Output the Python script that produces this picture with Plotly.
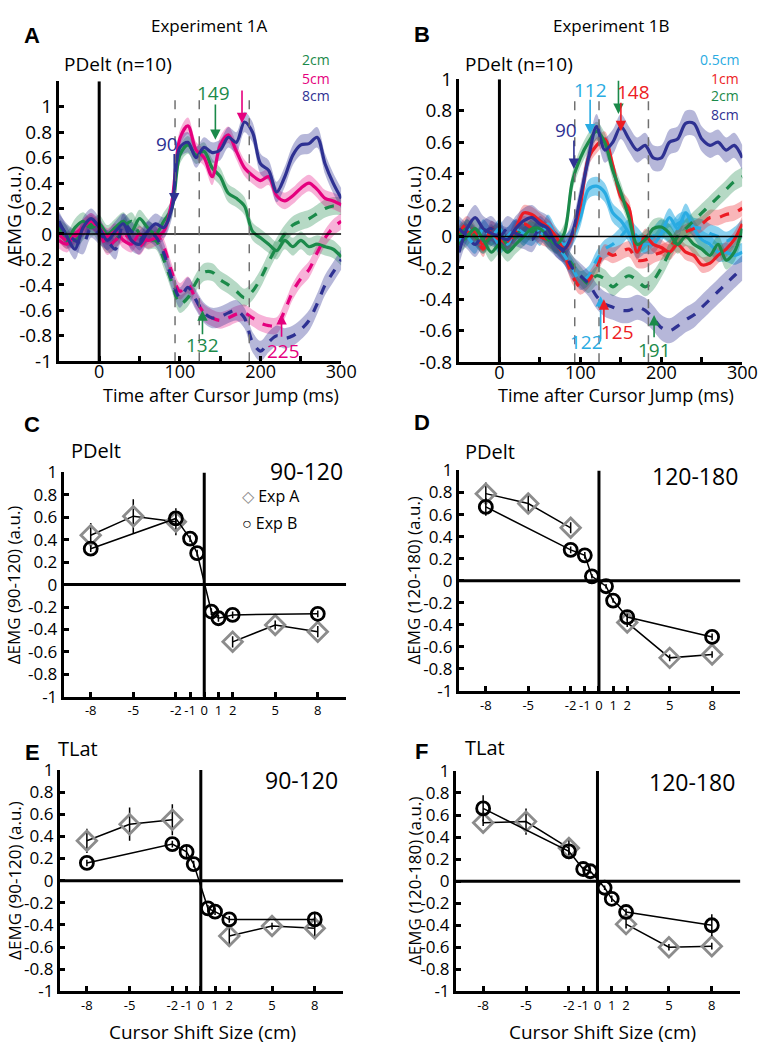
import plotly.graph_objects as go

W, H = 775, 1059
FONT = "Open Sans"

# ---------------- Panels A / B : time courses ----------------
TIME_MS = [-50, -40, -30, -20, -10, 0, 10, 20, 30, 40, 50, 60, 70, 80, 90,
           100, 110, 120, 130, 140, 150, 160, 170, 180, 190, 200, 210, 220,
           230, 240, 250, 260, 270, 280, 290, 300]

# Experiment 1A
A_2CM_POS = [0.02, -0.05, 0.05, 0.10, 0.05, 0.08, 0.00, 0.05, 0.10, 0.02, 0.12, 0.05, 0.00, 0.10, 0.20,
             0.62, 0.70, 0.62, 0.65, 0.52, 0.45, 0.32, 0.28, 0.22, 0.02, -0.03, -0.08, -0.13,
             -0.05, -0.10, -0.05, -0.10, -0.08, -0.10, -0.12, -0.18]
A_2CM_NEG = [0.05, 0.00, -0.05, 0.02, 0.08, 0.00, -0.08, -0.05, 0.05, 0.10, 0.00, -0.05, -0.05, -0.20, -0.38,
             -0.55, -0.50, -0.38, -0.30, -0.30, -0.36, -0.40, -0.45, -0.50, -0.45, -0.35, -0.22, -0.10,
             0.00, 0.07, 0.10, 0.12, 0.16, 0.20, 0.22, 0.22]
A_5CM_POS = [-0.05, -0.08, 0.00, 0.05, 0.10, 0.05, -0.02, 0.02, -0.05, -0.08, 0.00, -0.05, -0.03, 0.02, 0.25,
             0.75, 0.85, 0.66, 0.60, 0.45, 0.70, 0.78, 0.65, 0.52, 0.46, 0.42, 0.45, 0.30,
             0.26, 0.30, 0.36, 0.40, 0.35, 0.28, 0.26, 0.23]
A_5CM_NEG = [0.00, -0.05, -0.02, 0.05, 0.10, 0.02, -0.10, -0.05, 0.00, -0.05, -0.10, -0.02, 0.00, -0.10, -0.30,
             -0.45, -0.40, -0.52, -0.62, -0.66, -0.68, -0.66, -0.63, -0.62, -0.66, -0.70, -0.72, -0.72,
             -0.60, -0.45, -0.35, -0.28, -0.15, -0.03, 0.05, 0.10]
A_8CM_POS = [0.10, -0.02, -0.12, 0.05, 0.12, 0.05, -0.05, 0.02, 0.08, -0.05, -0.08, 0.02, 0.08, 0.05, 0.20,
             0.68, 0.72, 0.60, 0.68, 0.64, 0.66, 0.76, 0.72, 0.88, 0.80, 0.55, 0.50, 0.33,
             0.45, 0.62, 0.70, 0.71, 0.76, 0.55, 0.40, 0.28]
A_8CM_NEG = [0.08, 0.00, -0.05, -0.08, 0.05, 0.00, -0.05, -0.12, 0.08, 0.02, -0.05, 0.02, -0.02, -0.15, -0.35,
             -0.50, -0.42, -0.52, -0.62, -0.66, -0.65, -0.62, -0.60, -0.66, -0.85, -0.92, -0.85, -0.80,
             -0.82, -0.80, -0.75, -0.68, -0.55, -0.40, -0.30, -0.20]
A_SEM = {"2cm": 0.07, "5cm": 0.065, "8cm": 0.08}

# Experiment 1B
B_05CM_POS = [0.05, 0.00, -0.05, 0.05, 0.00, 0.05, -0.05, 0.05, 0.00, 0.05, 0.00, 0.08, 0.00, -0.05, 0.00,
              0.12, 0.30, 0.32, 0.28, 0.15, 0.10, 0.02, -0.08, -0.05, -0.05, 0.02, 0.12, 0.05,
              0.15, 0.05, -0.02, -0.05, -0.10, -0.10, -0.12, -0.10]
B_05CM_NEG = [-0.05, 0.05, 0.00, -0.05, 0.02, -0.05, 0.00, 0.05, 0.02, 0.00, 0.05, 0.00, -0.05, -0.12, -0.20,
              -0.28, -0.25, -0.15, -0.08, -0.05, 0.00, 0.05, 0.00, -0.05, 0.00, 0.05, 0.02, 0.08,
              0.10, 0.06, 0.05, 0.02, 0.00, -0.03, 0.00, 0.05]
B_1CM_POS = [0.00, 0.03, 0.00, -0.05, 0.02, -0.02, -0.03, 0.05, 0.15, 0.14, 0.10, 0.06, 0.00, -0.08, 0.00,
             0.20, 0.50, 0.58, 0.62, 0.45, 0.25, 0.18, -0.10, 0.00, -0.05, -0.07, -0.10, -0.05,
             -0.10, -0.12, -0.18, -0.17, -0.12, -0.08, -0.02, 0.08]
B_1CM_NEG = [0.02, 0.08, 0.02, -0.08, 0.05, 0.00, -0.05, 0.02, 0.08, 0.05, 0.00, -0.02, -0.05, -0.12, -0.25,
             -0.32, -0.28, -0.20, -0.10, -0.12, -0.10, -0.08, -0.15, -0.15, -0.12, -0.10, -0.07, 0.00,
             0.03, 0.05, 0.08, 0.12, 0.12, 0.14, 0.15, 0.18]
B_2CM_POS = [-0.05, 0.00, 0.05, -0.02, -0.10, -0.05, -0.10, -0.05, 0.00, 0.05, 0.05, 0.00, -0.05, 0.02, 0.35,
             0.50, 0.60, 0.67, 0.60, 0.42, 0.28, 0.12, -0.05, -0.02, 0.05, 0.06, 0.02, -0.05,
             0.00, -0.05, -0.08, -0.12, -0.05, -0.15, -0.10, 0.05]
B_2CM_NEG = [0.00, 0.05, 0.00, -0.05, 0.00, 0.02, -0.05, 0.00, 0.05, 0.03, 0.05, -0.02, -0.05, -0.10, -0.18,
             -0.25, -0.30, -0.25, -0.27, -0.32, -0.28, -0.25, -0.28, -0.32, -0.28, -0.20, -0.10, 0.00,
             0.05, 0.10, 0.15, 0.20, 0.25, 0.30, 0.35, 0.38]
B_8CM_POS = [-0.10, 0.05, 0.12, 0.05, 0.02, 0.00, -0.02, 0.05, 0.10, 0.12, 0.08, 0.05, -0.05, -0.08, 0.02,
             0.25, 0.50, 0.70, 0.55, 0.60, 0.70, 0.62, 0.55, 0.58, 0.50, 0.50, 0.60, 0.62,
             0.72, 0.72, 0.62, 0.58, 0.60, 0.55, 0.58, 0.50]
B_8CM_NEG = [0.05, 0.00, -0.05, 0.02, 0.05, 0.00, 0.05, 0.02, 0.00, -0.02, 0.05, 0.00, -0.05, -0.10, -0.20,
             -0.25, -0.30, -0.38, -0.43, -0.45, -0.47, -0.47, -0.45, -0.47, -0.52, -0.58, -0.60, -0.57,
             -0.53, -0.50, -0.45, -0.40, -0.35, -0.30, -0.25, -0.20]
B_SEM = {"0.5cm": 0.06, "1cm": 0.05, "2cm": 0.06, "8cm": 0.08}

WINDOW_LINES_A = [94, 124, 186]
WINDOW_LINES_B = [93, 123, 184]

# onset / peak markers: (label, time, tail value, tip value, text time, text value, colour key)
ARROWS_A = [("90", 93, 0.64, 0.24, 84, 0.71, "8cm"),
            ("149", 144, 1.03, 0.74, 142, 1.11, "2cm"),
            ("175", 177, 1.14, 0.87, 178, 1.22, "5cm"),
            ("132", 128, -0.80, -0.60, 128, -0.87, "2cm"),
            ("225", 226, -0.82, -0.63, 228, -0.92, "5cm")]
ARROWS_B = [("90", 92, 0.62, 0.43, 82, 0.68, "8cm"),
            ("112", 112, 0.88, 0.65, 112, 0.93, "0.5cm"),
            ("147", 147, 1.00, 0.78, 150, 1.06, "2cm"),
            ("148", 150, 0.86, 0.67, 165, 0.92, "1cm"),
            ("122", 125, -0.66, -0.38, 108, -0.67, "0.5cm"),
            ("125", 129, -0.56, -0.40, 146, -0.61, "1cm"),
            ("191", 191, -0.65, -0.50, 191, -0.72, "2cm")]

# ---------------- Panels C-F : tuning curves ----------------
SHIFT_TICKS = [-8, -5, -2, -1, 0, 1, 2, 5, 8]
SHIFT_A = [-8, -5, -2, 2, 5, 8]
SHIFT_B = [-8, -2, -1, -0.5, 0.5, 1, 2, 8]

C_EXPA = [0.44, 0.61, 0.56, -0.51, -0.36, -0.42]
C_EXPA_ERR = [0.11, 0.15, 0.12, 0.05, 0.04, 0.05]
C_EXPB = [0.32, 0.59, 0.41, 0.28, -0.24, -0.30, -0.27, -0.26]
C_EXPB_ERR = [0.03, 0.05, 0.03, 0.03, 0.03, 0.03, 0.03, 0.03]

D_EXPA = [0.79, 0.70, 0.48, -0.38, -0.70, -0.67]
D_EXPA_ERR = [0.10, 0.08, 0.05, 0.04, 0.03, 0.03]
D_EXPB = [0.67, 0.28, 0.23, 0.04, -0.05, -0.18, -0.33, -0.51]
D_EXPB_ERR = [0.08, 0.03, 0.03, 0.02, 0.02, 0.02, 0.03, 0.03]

E_EXPA = [0.36, 0.51, 0.55, -0.50, -0.41, -0.43]
E_EXPA_ERR = [0.11, 0.15, 0.14, 0.08, 0.03, 0.10]
E_EXPB = [0.16, 0.33, 0.26, 0.15, -0.25, -0.28, -0.35, -0.35]
E_EXPB_ERR = [0.03, 0.03, 0.06, 0.03, 0.03, 0.03, 0.03, 0.07]

F_EXPA = [0.53, 0.54, 0.30, -0.39, -0.60, -0.59]
F_EXPA_ERR = [0.03, 0.12, 0.08, 0.04, 0.03, 0.03]
F_EXPB = [0.66, 0.27, 0.11, 0.09, -0.06, -0.16, -0.28, -0.40]
F_EXPB_ERR = [0.12, 0.03, 0.02, 0.02, 0.02, 0.03, 0.03, 0.10]

Y_TICKS_AC = [-1, -0.8, -0.6, -0.4, -0.2, 0, 0.2, 0.4, 0.6, 0.8, 1]
Y_TICKS_B = [-0.8, -0.6, -0.4, -0.2, 0, 0.2, 0.4, 0.6, 0.8, 1]
T_TICKS = [0, 50, 100, 150, 200, 250, 300]
T_LABELS = ["0", "", "100", "", "200", "", "300"]

COL = {"2cm": "#1B8A4A", "5cm": "#E5007E", "8cm": "#2E3192",
       "0.5cm": "#29ABE2", "1cm": "#ED1C24"}
BAND = {"2cm": "rgba(27,138,74,0.32)", "5cm": "rgba(229,0,126,0.30)",
        "8cm": "rgba(46,49,146,0.35)", "0.5cm": "rgba(41,171,226,0.55)",
        "1cm": "rgba(237,28,36,0.32)"}


def fmt(v):
    return f"{v:g}"


def px(x):
    return x / W


def py(y):
    return 1 - y / H


fig = go.Figure()


def add_band(xa, ya, key, vals, sem):
    up = [v + sem for v in vals]
    lo = [v - sem for v in vals]
    fig.add_trace(go.Scatter(x=TIME_MS, y=lo, mode="lines",
                             line=dict(width=0, shape="spline", smoothing=0.9),
                             hoverinfo="skip", xaxis=xa, yaxis=ya))
    fig.add_trace(go.Scatter(x=TIME_MS, y=up, mode="lines", fill="tonexty",
                             fillcolor=BAND[key],
                             line=dict(width=0, shape="spline", smoothing=0.9),
                             hoverinfo="skip", xaxis=xa, yaxis=ya))


def add_mean(xa, ya, key, vals, dash):
    fig.add_trace(go.Scatter(x=TIME_MS, y=vals, mode="lines",
                             line=dict(color=COL[key], width=3.2, dash=dash,
                                       shape="spline", smoothing=0.9),
                             xaxis=xa, yaxis=ya))


series_A = [("2cm", A_2CM_POS, "solid"), ("2cm", A_2CM_NEG, "dash"),
            ("5cm", A_5CM_POS, "solid"), ("5cm", A_5CM_NEG, "dash"),
            ("8cm", A_8CM_POS, "solid"), ("8cm", A_8CM_NEG, "dash")]
series_B = [("0.5cm", B_05CM_POS, "solid"), ("0.5cm", B_05CM_NEG, "dash"),
            ("1cm", B_1CM_POS, "solid"), ("1cm", B_1CM_NEG, "dash"),
            ("2cm", B_2CM_POS, "solid"), ("2cm", B_2CM_NEG, "dash"),
            ("8cm", B_8CM_POS, "solid"), ("8cm", B_8CM_NEG, "dash")]

for k, v, d in series_A:
    add_band("x", "y", k, v, A_SEM[k])
for k, v, d in series_B:
    add_band("x2", "y2", k, v, B_SEM[k])
for k, v, d in series_A:
    add_mean("x", "y", k, v, d)
for k, v, d in series_B:
    add_mean("x2", "y2", k, v, d)


def add_tuning(xa, ya, a_vals, a_err, b_vals, b_err):
    # Exp A: negative and positive branches drawn separately
    xs, ys, es = [], [], []
    for s, v, e in zip(SHIFT_A, a_vals, a_err):
        if s > 0 and xs and xs[-1] is not None and xs[-1] < 0:
            xs.append(None); ys.append(None); es.append(0)
        xs.append(s); ys.append(v); es.append(e)
    fig.add_trace(go.Scatter(x=xs, y=ys, mode="lines+markers", connectgaps=False,
                             line=dict(color="black", width=1.5),
                             marker=dict(symbol="diamond-open", size=15, color="#8C8C8C",
                                         line=dict(width=2.8, color="#8C8C8C")),
                             error_y=dict(type="data", array=es, color="black",
                                          thickness=1.5, width=0),
                             xaxis=xa, yaxis=ya))
    fig.add_trace(go.Scatter(x=SHIFT_B, y=b_vals, mode="lines+markers",
                             line=dict(color="black", width=1.5),
                             marker=dict(symbol="circle-open", size=13, color="black",
                                         line=dict(width=2.8, color="black")),
                             error_y=dict(type="data", array=b_err, color="black",
                                          thickness=1.5, width=0),
                             xaxis=xa, yaxis=ya))


add_tuning("x3", "y3", C_EXPA, C_EXPA_ERR, C_EXPB, C_EXPB_ERR)
add_tuning("x4", "y4", D_EXPA, D_EXPA_ERR, D_EXPB, D_EXPB_ERR)
add_tuning("x5", "y5", E_EXPA, E_EXPA_ERR, E_EXPB, E_EXPB_ERR)
add_tuning("x6", "y6", F_EXPA, F_EXPA_ERR, F_EXPB, F_EXPB_ERR)


def ax(domain, anchor, rng, tickvals, ticktext, size, standoff=0):
    return dict(domain=domain, anchor=anchor, range=rng, tickvals=tickvals,
                ticktext=ticktext, showline=True, linecolor="black", linewidth=3,
                ticks="inside", ticklen=5, tickwidth=2.5, tickcolor="black",
                showgrid=False, zeroline=False, ticklabelstandoff=standoff,
                tickfont=dict(family=FONT, size=size, color="black"))


yt_ac = [fmt(v) for v in Y_TICKS_AC]
yt_b = [fmt(v) for v in Y_TICKS_B]
xt_s = [fmt(v) for v in SHIFT_TICKS]

layout_axes = dict(
    xaxis=ax([px(60), px(348)], "y", [-50, 300], T_TICKS, T_LABELS, 18, -8),
    yaxis=ax([py(357), py(70)], "x", [-1, 1.2], Y_TICKS_AC, yt_ac, 19),
    xaxis2=ax([px(468), px(757)], "y2", [-50, 300], T_TICKS, T_LABELS, 18, -8),
    yaxis2=ax([py(358), py(68)], "x2", [-0.8, 1.0], Y_TICKS_B, yt_b, 19),
    xaxis3=ax([px(65), px(353)], "y3", [-9.9, 10], SHIFT_TICKS, xt_s, 13),
    yaxis3=ax([py(701), py(471)], "x3", [-1, 1], Y_TICKS_AC, yt_ac, 17),
    xaxis4=ax([px(468), px(755)], "y4", [-9.9, 10], SHIFT_TICKS, xt_s, 13),
    yaxis4=ax([py(695), py(469)], "x4", [-1, 1], Y_TICKS_AC, yt_ac, 17),
    xaxis5=ax([px(61), px(350)], "y5", [-9.9, 10], SHIFT_TICKS, xt_s, 13),
    yaxis5=ax([py(1003), py(776)], "x5", [-1, 1], Y_TICKS_AC, yt_ac, 17),
    xaxis6=ax([px(465), px(755)], "y6", [-9.9, 10], SHIFT_TICKS, xt_s, 13),
    yaxis6=ax([py(1003), py(777)], "x6", [-1, 1], Y_TICKS_AC, yt_ac, 17),
)

shapes = []
for xr, yr, ylo, yhi, wins, dtop in [("x", "y", -1, 1.2, WINDOW_LINES_A, 1.05),
                                      ("x2", "y2", -0.8, 1.0, WINDOW_LINES_B, 0.9)]:
    shapes.append(dict(type="line", xref=xr, yref=yr, x0=-50, x1=300, y0=0, y1=0,
                       line=dict(color="black", width=1.5)))
    shapes.append(dict(type="line", xref=xr, yref=yr, x0=0, x1=0, y0=ylo, y1=yhi,
                       line=dict(color="black", width=3)))
    for t in wins:
        shapes.append(dict(type="line", xref=xr, yref=yr, x0=t, x1=t, y0=ylo, y1=dtop,
                           line=dict(color="#707070", width=1.5, dash="dash")))
for i in range(3, 7):
    shapes.append(dict(type="line", xref=f"x{i}", yref=f"y{i}", x0=-9.9, x1=10, y0=0, y1=0,
                       line=dict(color="black", width=3)))
    shapes.append(dict(type="line", xref=f"x{i}", yref=f"y{i}", x0=0, x1=0, y0=-1, y1=1,
                       line=dict(color="black", width=3)))

anns = []


def txt(text, x, y, size, color="black", xanchor="center", yanchor="middle",
        angle=0, bold=False, family=FONT):
    anns.append(dict(text=f"<b>{text}</b>" if bold else text, x=px(x), y=py(y),
                     xref="paper", yref="paper", showarrow=False, xanchor=xanchor,
                     yanchor=yanchor, textangle=angle,
                     font=dict(family=family, size=size, color=color)))


for arrows, xr, yr in [(ARROWS_A, "x", "y"), (ARROWS_B, "x2", "y2")]:
    for lab, t, tail, tip, tt, tv, key in arrows:
        anns.append(dict(x=t, y=tip, ax=t, ay=tail, xref=xr, yref=yr, axref=xr, ayref=yr,
                         text="", showarrow=True, arrowhead=2, arrowsize=1.3,
                         arrowwidth=1.6, arrowcolor=COL[key]))
        anns.append(dict(x=tt, y=tv, xref=xr, yref=yr, text=lab, showarrow=False,
                         xanchor="center", yanchor="middle",
                         font=dict(family=FONT, size=19, color=COL[key])))

LET = "Liberation Sans"
txt("A", 33, 23, 22, bold=True, family=LET)
txt("B", 430, 22, 22, bold=True, family=LET)
txt("C", 33, 422, 22, bold=True, family=LET)
txt("D", 430, 420, 22, bold=True, family=LET)
txt("E", 33, 758, 22, bold=True, family=LET)
txt("F", 430, 757, 22, bold=True, family=LET)

txt("Experiment 1A", 213, 13, 17)
txt("Experiment 1B", 623, 13, 17)
txt("PDelt (n=10)", 63, 52, 19, xanchor="left")
txt("PDelt (n=10)", 472, 52, 19, xanchor="left")

for lab, yy in [("2cm", 48), ("5cm", 67), ("8cm", 85)]:
    txt(lab, 339, yy, 14, color=COL[lab], xanchor="right")
for lab, yy in [("0.5cm", 48), ("1cm", 67), ("2cm", 85), ("8cm", 104)]:
    txt(lab, 756, yy, 14, color=COL[lab], xanchor="right")

txt("Time after Cursor Jump (ms)", 225, 392, 18)
txt("Time after Cursor Jump (ms)", 628, 392, 18)
txt("ΔEMG (a.u.)", 14, 208, 19, angle=-90)
txt("ΔEMG (a.u.)", 422, 208, 19, angle=-90)
txt("ΔEMG (90-120) (a.u.)", 14, 586, 17, angle=-90)
txt("ΔEMG (120-180) (a.u.)", 422, 582, 17, angle=-90)
txt("ΔEMG (90-120) (a.u.)", 14, 889, 17, angle=-90)
txt("ΔEMG (120-180) (a.u.)", 422, 890, 17, angle=-90)
txt("Cursor Shift Size (cm)", 207, 1045, 19)
txt("Cursor Shift Size (cm)", 614, 1045, 19)

txt("PDelt", 70, 449, 20, xanchor="left")
txt("PDelt", 472, 450, 20, xanchor="left")
txt("TLat", 57, 754, 20, xanchor="left")
txt("TLat", 472, 753, 20, xanchor="left")
txt("90-120", 352, 470, 23, xanchor="right")
txt("120-180", 755, 475, 23, xanchor="right")
txt("90-120", 347, 786, 23, xanchor="right")
txt("120-180", 752, 788, 23, xanchor="right")

txt("<span style='color:#8C8C8C'>◇</span> Exp A", 245, 495, 16, xanchor="left")
txt("○ Exp B", 245, 523, 16, xanchor="left")

fig.update_layout(width=W, height=H, margin=dict(l=0, r=0, t=0, b=0),
                  plot_bgcolor="white", paper_bgcolor="white", showlegend=False,
                  shapes=shapes, annotations=anns, font=dict(family=FONT),
                  **layout_axes)

# pin the figure to the page's top-left corner so nothing offsets it
PAGE_FIX = ("var d=document.getElementById('{plot_id}');"
            "d.style.position='fixed';d.style.left='0px';d.style.top='0px';"
            "d.style.overflow='hidden';"
            "document.documentElement.style.margin='0';document.body.style.margin='0';"
            "document.documentElement.style.overflow='hidden';"
            "document.body.style.overflow='hidden';")

fig.write_html("out.html", config={"displayModeBar": False}, post_script=PAGE_FIX)
